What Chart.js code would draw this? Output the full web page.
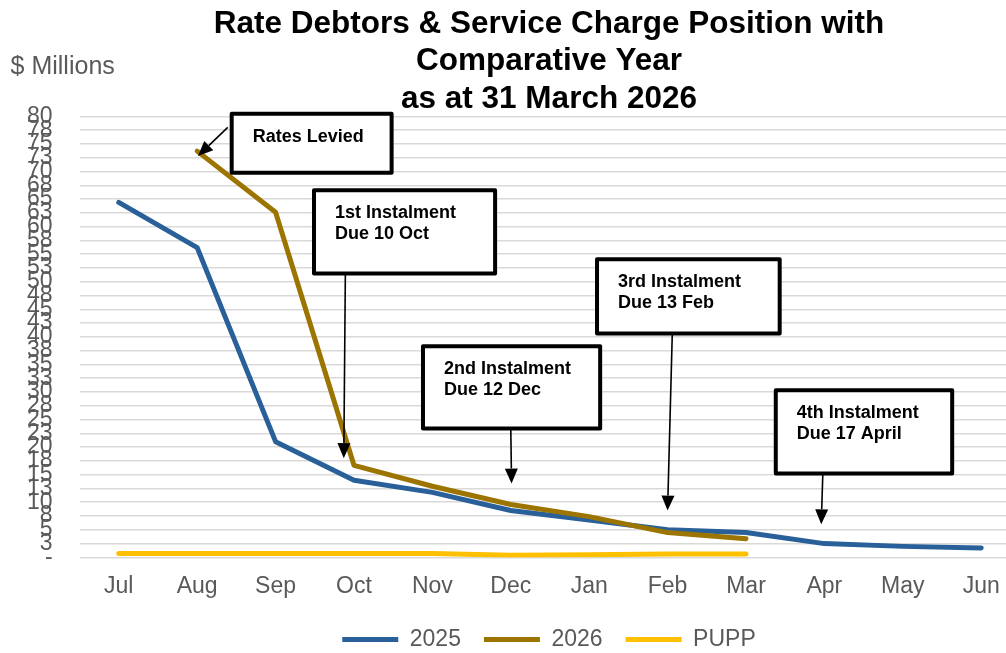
<!DOCTYPE html>
<html>
<head>
  <title>Rate Debtors & Service Charge Position</title>
  <script src="https://cdn.jsdelivr.net/npm/chart.js"></script>
  <style>
    html, body { margin: 0; padding: 0; overflow: hidden; background: #fff; }
    canvas { display: block; }
  </style>
</head>
<body>
  <canvas id="debtChart" width="1110" height="661" style="width:1110px;height:661px"></canvas>

  <script>
    const months = ["Jul", "Aug", "Sep", "Oct", "Nov", "Dec", "Jan", "Feb", "Mar", "Apr", "May", "Jun"];
    const debt2025 = [64.4, 56.2, 21.0, 14.0, 11.8, 8.5, 6.8, 5.0, 4.5, 2.5, 2.0, 1.7];
    const debt2026 = [null, 73.7, 62.6, 16.7, 12.9, 9.6, 7.4, 4.5, 3.4, null, null, null];
    const pupp = [0.7, 0.7, 0.7, 0.7, 0.7, 0.4, 0.5, 0.6, 0.6, null, null, null];
    const yTickLabels = ["-", "3", "5", "8", "10", "13", "15", "18", "20", "23", "25", "28", "30", "33", "35", "38",
      "40", "43", "45", "48", "50", "53", "55", "58", "60", "63", "65", "68", "70", "73", "75", "78", "80"];

    // callouts: box corners and arrow in data units (x = month index, y = $m)
    const callouts = [
      { lines: ["Rates Levied"], x0: 1.44, x1: 3.48, top: 80.5, bottom: 69.8, from: [1.39, 78.0], to: [1.01, 72.8] },
      { lines: ["1st Instalment", "Due 10 Oct"], x0: 2.49, x1: 4.80, top: 66.6, bottom: 51.5, from: [2.89, 51.5], to: [2.87, 18.0] },
      { lines: ["2nd Instalment", "Due 12 Dec"], x0: 3.88, x1: 6.14, top: 38.3, bottom: 23.4, from: [5.0, 23.4], to: [5.01, 13.4] },
      { lines: ["3rd Instalment", "Due 13 Feb"], x0: 6.10, x1: 8.43, top: 54.1, bottom: 40.6, from: [7.06, 40.6], to: [7.0, 8.5] },
      { lines: ["4th Instalment", "Due 17 April"], x0: 8.38, x1: 10.63, top: 30.3, bottom: 15.2, from: [8.98, 15.2], to: [8.96, 6.0] }
    ];

    const FONT = '"Liberation Sans", Arial, sans-serif';
    const GREY = "#595959";

    const toPoints = arr => arr.map((v, i) => ({ x: i, y: v }));

    const extras = {
      id: "extras",
      afterDatasetsDraw(chart) {
        const { ctx, chartArea, scales: { x, y } } = chart;
        ctx.save();
        // $ Millions label
        ctx.fillStyle = GREY;
        ctx.font = "25px " + FONT;
        ctx.textAlign = "left";
        ctx.textBaseline = "middle";
        ctx.fillText("$ Millions", chartArea.left - 69, chartArea.top - 49);

        callouts.forEach(c => {
          const l = x.getPixelForValue(c.x0), r = x.getPixelForValue(c.x1);
          const t = y.getPixelForValue(c.top), b = y.getPixelForValue(c.bottom);
          ctx.fillStyle = "#fff";
          ctx.strokeStyle = "#000";
          ctx.lineWidth = 4;
          ctx.lineJoin = "round";
          ctx.fillRect(l, t, r - l, b - t);
          ctx.strokeRect(l, t, r - l, b - t);
          ctx.fillStyle = "#000";
          ctx.font = "bold 18px " + FONT;
          ctx.textBaseline = "middle";
          c.lines.forEach((s, i) => ctx.fillText(s, l + 21, t + 23 + i * 20.5));

          // arrow
          const x1 = x.getPixelForValue(c.from[0]), y1 = y.getPixelForValue(c.from[1]);
          const x2 = x.getPixelForValue(c.to[0]), y2 = y.getPixelForValue(c.to[1]);
          const ang = Math.atan2(y2 - y1, x2 - x1);
          const head = 15, half = 6.5;
          const bx = x2 - head * Math.cos(ang), by = y2 - head * Math.sin(ang);
          ctx.lineWidth = 1.6;
          ctx.beginPath();
          ctx.moveTo(x1, y1);
          ctx.lineTo(bx, by);
          ctx.stroke();
          ctx.beginPath();
          ctx.moveTo(x2, y2);
          ctx.lineTo(bx + half * Math.sin(ang), by - half * Math.cos(ang));
          ctx.lineTo(bx - half * Math.sin(ang), by + half * Math.cos(ang));
          ctx.closePath();
          ctx.fill();
        });
        ctx.restore();
      }
    };

    new Chart(document.getElementById("debtChart"), {
      type: "line",
      data: {
        datasets: [
          { label: "2025", data: toPoints(debt2025), borderColor: "#2A6099", backgroundColor: "#2A6099", order: 2 },
          { label: "2026", data: toPoints(debt2026), borderColor: "#9C7400", backgroundColor: "#9C7400", order: 1 },
          { label: "PUPP", data: toPoints(pupp), borderColor: "#FFC000", backgroundColor: "#FFC000", order: 3 }
        ]
      },
      options: {
        responsive: false,
        devicePixelRatio: 1,
        animation: false,
        layout: { padding: { left: 0, right: 12, top: 0, bottom: 0 } },
        elements: {
          line: { borderWidth: 5, tension: 0, borderCapStyle: "round", borderJoinStyle: "round" },
          point: { radius: 0, hoverRadius: 0 }
        },
        plugins: {
          title: {
            display: true,
            text: ["Rate Debtors & Service Charge Position with", "Comparative Year", "as at 31 March 2026"],
            color: "#000",
            font: { family: FONT, size: 31.5, weight: "bold", lineHeight: 1.2 },
            padding: { top: 5, bottom: -2 }
          },
          legend: {
            position: "bottom",
            labels: {
              color: GREY,
              font: { family: FONT, size: 23 },
              boxWidth: 56,
              boxHeight: 5,
              padding: 23,
              sort: (a, b) => a.datasetIndex - b.datasetIndex,
              generateLabels(chart) {
                return Chart.defaults.plugins.legend.labels.generateLabels(chart)
                  .map(item => ({ ...item, lineWidth: 0, fillStyle: item.strokeStyle }));
              }
            }
          },
          tooltip: { enabled: false }
        },
        scales: {
          x: {
            type: "linear",
            min: -0.5,
            max: 12.49,
            grid: { display: false, drawTicks: false },
            border: { display: false },
            afterBuildTicks: scale => { scale.ticks = months.map((m, i) => ({ value: i })); },
            afterFit: scale => { scale.height -= 10; },
            ticks: {
              autoSkip: false,
              maxRotation: 0,
              padding: 15,
              color: GREY,
              font: { family: FONT, size: 23 },
              callback: v => months[v] || ""
            }
          },
          y: {
            min: 0,
            max: 80,
            grid: { color: "#D9D9D9", lineWidth: 1.6, drawTicks: false },
            border: { display: false },
            ticks: {
              stepSize: 2.5,
              autoSkip: false,
              padding: 27,
              color: GREY,
              font: { family: FONT, size: 23 },
              callback: (v, i) => yTickLabels[i]
            }
          }
        }
      },
      plugins: [extras]
    });
  </script>
</body>
</html>
